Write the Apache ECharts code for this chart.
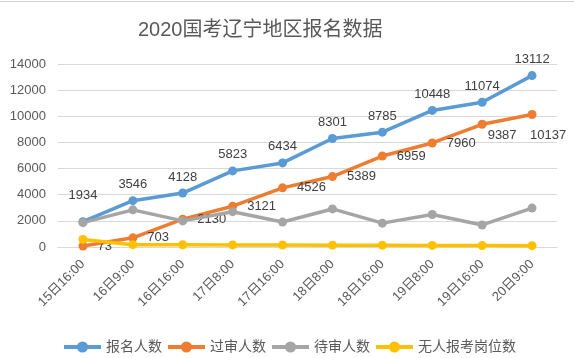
<!DOCTYPE html>
<html>
<head>
<meta charset="utf-8">
<script src="https://cdn.jsdelivr.net/npm/echarts@6/dist/echarts.min.js"></script>
<style>html,body{margin:0;padding:0;background:#fff;}#c{width:574px;height:358px;}</style>
</head>
<body>
<div id="c"></div>
<script>
var categories = ['15日16:00','16日9:00','16日16:00','17日8:00','17日16:00','18日8:00','18日16:00','19日8:00','19日16:00','20日9:00'];
var signup = [1934, 3546, 4128, 5823, 6434, 8301, 8785, 10448, 11074, 13112];
var passed = [73, 703, 2130, 3121, 4526, 5389, 6959, 7960, 9387, 10137];
var pending = [1861, 2843, 1998, 2702, 1908, 2912, 1826, 2488, 1687, 2975];
var noApplicant = [580, 180, 170, 160, 150, 140, 130, 120, 110, 100];
var seriesNames = ['报名人数', '过审人数', '待审人数', '无人报考岗位数'];
var yTicks = [0, 2000, 4000, 6000, 8000, 10000, 12000, 14000];

var FONT = '"Liberation Sans","Noto Sans CJK SC",sans-serif';
var colors = ['#5B9BD5', '#ED7D31', '#A5A5A5', '#FFC000'];

var signupData = signup.map(function (v, i) {
  var d = { value: v };
  if (i === 0) d.label = { offset: [0, -10] };
  return d;
});
var passedData = passed.map(function (v, i) {
  var d = { value: v };
  if (i === 8) d.label = { position: 'right', offset: [-9, 11] };
  if (i === 9) d.label = { position: 'bottom', offset: [16, 0] };
  return d;
});

function lineSeries(name, data, color, label, z) {
  return {
    name: name, type: 'line', data: data, z: z,
    symbol: 'circle', symbolSize: 9,
    lineStyle: { width: 3.5, color: color },
    itemStyle: { color: color },
    label: label,
    emphasis: { disabled: true },
    animation: false
  };
}

var labelStyle = { color: '#404040', fontSize: 13, fontFamily: FONT };

var option = {
  animation: false,
  color: colors,
  title: {
    text: '2020国考辽宁地区报名数据',
    left: 133, top: 15,
    textStyle: { color: '#595959', fontSize: 20, fontWeight: 'normal', fontFamily: FONT }
  },
  grid: { left: 58, right: 17, top: 64, bottom: 111 },
  legend: {
    data: seriesNames,
    left: 57, top: 335,
    itemWidth: 37, itemHeight: 14, itemGap: 4,
    lineStyle: { width: 4 },
    textStyle: { color: '#595959', fontSize: 14, fontFamily: FONT }
  },
  xAxis: {
    type: 'category', data: categories, boundaryGap: true,
    axisLine: { lineStyle: { color: '#D9D9D9' } },
    axisTick: { show: false },
    axisLabel: { rotate: 45, color: '#595959', fontSize: 13, fontFamily: FONT, margin: 15, interval: 0 }
  },
  yAxis: {
    type: 'value', min: yTicks[0], max: yTicks[yTicks.length - 1], interval: 2000,
    axisLine: { show: false }, axisTick: { show: false },
    splitLine: { lineStyle: { color: '#D9D9D9', width: 1 } },
    axisLabel: { color: '#595959', fontSize: 13, fontFamily: FONT, margin: 12,
      formatter: function (v) { return String(v); } }
  },
  graphic: [
    { type: 'line', shape: { x1: 0, y1: 1.5, x2: 574, y2: 1.5 }, style: { stroke: '#D0D0D0', lineWidth: 1 } }
  ],
  series: [
    lineSeries(seriesNames[0], signupData, colors[0], Object.assign({ show: true, position: 'top', distance: 5 }, labelStyle), 2),
    lineSeries(seriesNames[1], passedData, colors[1], Object.assign({ show: true, position: 'right', distance: 10 }, labelStyle), 3),
    lineSeries(seriesNames[2], pending, colors[2], { show: false }, 4),
    lineSeries(seriesNames[3], noApplicant, colors[3], { show: false }, 5)
  ]
};
var chart = echarts.init(document.getElementById('c'), null, { renderer: 'canvas' });
chart.setOption(option);
</script>
</body>
</html>
